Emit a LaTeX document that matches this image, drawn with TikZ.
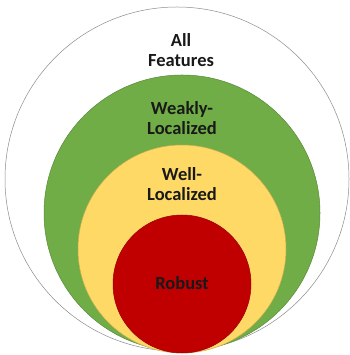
\documentclass[tikz,border=0pt]{standalone}
\usepackage{fontspec}
\setmainfont{Carlito}
\definecolor{gr}{HTML}{70AD47}
\definecolor{ye}{HTML}{FFD966}
\definecolor{rd}{HTML}{C00000}
\begin{document}
\begin{tikzpicture}[x=1pt,y=1pt,
  ring/.style={line width=0.5pt},
  lab/.style={align=center,font=\fontsize{18.5}{20}\selectfont\bfseries,text=black!90}]
\useasboundingbox (0,0) rectangle (349,355);
\fill[white] (0,0) rectangle (349,355);
\draw[ring,draw=black!45,fill=white] (177,176) circle[radius=172];
\draw[ring,draw=gr!80!black,fill=gr] (182,142) circle[radius=138];
\draw[ring,draw=ye!80!black,fill=ye] (182,106) circle[radius=104];
\draw[ring,draw=rd!80!black,fill=rd] (182,71) circle[radius=69];
\node[lab] (all) at (181,305) {All\\Features};
\node[lab] (weak) at (182,237) {Weakly-\\Localized};
\node[lab] (well) at (182,171) {Well-\\Localized};
\node[lab] (rob) at (182,72) {Robust};
\end{tikzpicture}
\end{document}
